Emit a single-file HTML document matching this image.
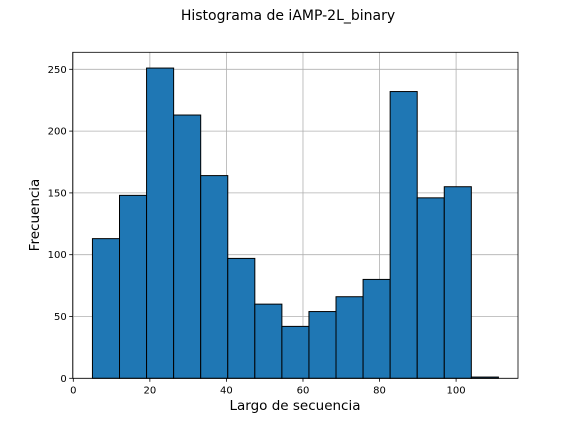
<!DOCTYPE html>
<html><head><meta charset="utf-8"><style>
body{margin:0;background:#fff;}
svg{display:block;font-family:"DejaVu Sans","Liberation Sans",sans-serif;}
</style></head><body>
<svg id="chart" width="576" height="432">
<text x="288" y="20" text-anchor="middle" font-size="14">Histograma de iAMP-2L_binary</text>
<g id="grid"></g><g id="bars"></g><g id="axes"></g>
<text x="295" y="410" text-anchor="middle" font-size="13.5">Largo de secuencia</text>
<text transform="translate(39,215) rotate(-90)" text-anchor="middle" font-size="13.5">Frecuencia</text>
</svg>
<script>
const binStart = 5;
const binWidth = 7.07;
const counts = [113,148,251,213,164,97,60,42,54,66,80,232,146,155,1];
const xTicks = [0,20,40,60,80,100];
const yTicks = [0,50,100,150,200,250];
const L=72.7,R=518,T=52.3,B=378.3;
const xs=v=>73.3+v*3.828;
const ys=v=>378.3-v*1.236;
const NS="http://www.w3.org/2000/svg";
function mk(tag,attrs,parent){const e=document.createElementNS(NS,tag);for(const k in attrs)e.setAttribute(k,attrs[k]);document.getElementById(parent).appendChild(e);return e;}
xTicks.forEach(t=>{
  const g=mk('line',{x1:xs(t),x2:xs(t),y1:T,y2:B,stroke:'#b0b0b0','stroke-width':0.8},'grid');
  
  
  const tk=mk('line',{x1:xs(t),x2:xs(t),y1:B,y2:B+3.5,stroke:'#000','stroke-width':0.8},'axes');
  
  
  const tx=mk('text',{x:xs(t),y:B+15,'text-anchor':'middle','font-size':10},'axes');
  tx.textContent=t;
  
  
});
yTicks.forEach(t=>{
  const g=mk('line',{x1:L,x2:R,y1:ys(t),y2:ys(t),stroke:'#b0b0b0','stroke-width':0.8},'grid');
  
  
  const tk=mk('line',{x1:L-3.5,x2:L,y1:ys(t),y2:ys(t),stroke:'#000','stroke-width':0.8},'axes');
  
  
  const tx=mk('text',{x:L-6,y:ys(t)+3.5,'text-anchor':'end','font-size':10},'axes');
  tx.textContent=t;
  
  
});
counts.forEach((c,i)=>{
  const x0=xs(binStart+i*binWidth),x1=xs(binStart+(i+1)*binWidth);
  const r=mk('rect',{x:x0,y:ys(c),width:x1-x0,height:ys(0)-ys(c),fill:'#1f77b4',stroke:'#000','stroke-width':1},'bars');
  
  
});
const f=mk('rect',{x:L,y:T,width:R-L,height:B-T,fill:'none',stroke:'#000','stroke-width':0.8},'axes');


</script>
</body></html>
